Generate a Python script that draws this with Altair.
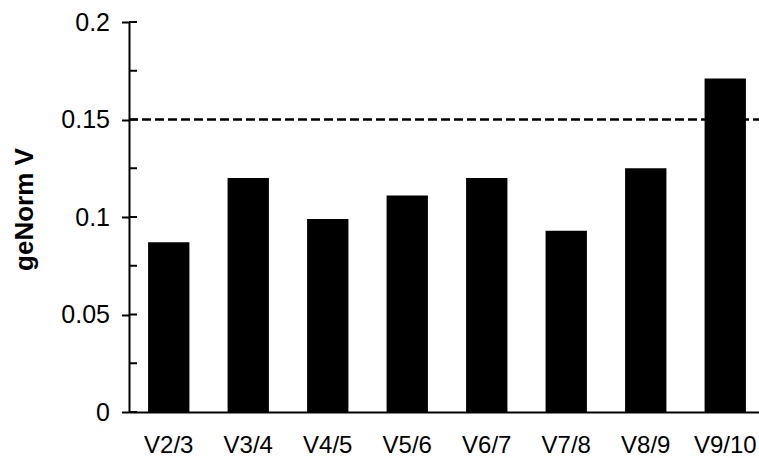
import altair as alt
import pandas as pd

# geNorm pairwise variation per step
pairs = ["V2/3", "V3/4", "V4/5", "V5/6", "V6/7", "V7/8", "V8/9", "V9/10"]
values = [0.087, 0.120, 0.099, 0.111, 0.120, 0.093, 0.125, 0.171]

# y-axis tick positions
major_ticks = [0, 0.05, 0.1, 0.15, 0.2]
all_ticks = [0, 0.025, 0.05, 0.075, 0.1, 0.125, 0.15, 0.175, 0.2]
cutoff = 0.15

FONT = "Liberation Sans"

bars_df = pd.DataFrame({"pair": pairs, "V": values})
ticks_df = pd.DataFrame({"t": all_ticks})
cut_df = pd.DataFrame({"c": [cutoff]})

y_scale = alt.Scale(domain=[0, 0.2], nice=False, zero=True)

bars = alt.Chart(bars_df).mark_bar(color="black").encode(
    x=alt.X(
        "pair:N",
        sort=pairs,
        scale=alt.Scale(range=[0, 636], paddingInner=0.48, paddingOuter=0.24),
        axis=alt.Axis(
            title=None,
            ticks=False,
            labelAngle=0,
            labelFont=FONT,
            labelFontSize=24,
            labelColor="black",
            labelPadding=21,
            domainColor="black",
            domainWidth=2,
        ),
    ),
    y=alt.Y(
        "V:Q",
        scale=y_scale,
        axis=alt.Axis(
            title="geNorm V",
            titleFont=FONT,
            titleFontSize=26,
            titleFontWeight="bold",
            titleColor="black",
            titleAngle=270,
            titleAlign="center",
            titleBaseline="alphabetic",
            titleX=-97,
            titleY=187,
            values=major_ticks,
            labelExpr="datum.value == 0 ? '0' : format(datum.value, '.2~f')",
            labelFont=FONT,
            labelFontSize=25,
            labelColor="black",
            labelPadding=12,
            tickSize=7.5,
            tickColor="black",
            tickWidth=2,
            domainColor="black",
            domainWidth=2,
            grid=False,
        ),
    ),
)

# inward ticks on the value axis
inner_ticks = alt.Chart(ticks_df).mark_rule(color="black", strokeWidth=2).encode(
    y=alt.Y("t:Q", scale=y_scale),
    x=alt.value(0),
    x2=alt.value(8),
)

# stability cutoff
cut_line = alt.Chart(cut_df).mark_rule(
    color="black", strokeWidth=2.5, strokeDash=[9, 4]
).encode(
    y=alt.Y("c:Q", scale=y_scale),
    x=alt.value(0),
    x2=alt.value(640),
)

chart = (
    alt.layer(bars, cut_line, inner_ticks)
    .properties(
        width=630,
        height=390,
        autosize=alt.AutoSizeParams(type="none"),
        padding={"left": 129, "top": 22, "right": 0, "bottom": 46},
        background="white",
    )
    .configure_view(stroke=None)
)

chart.save("out.html", embed_options={"renderer": "svg", "actions": False})
